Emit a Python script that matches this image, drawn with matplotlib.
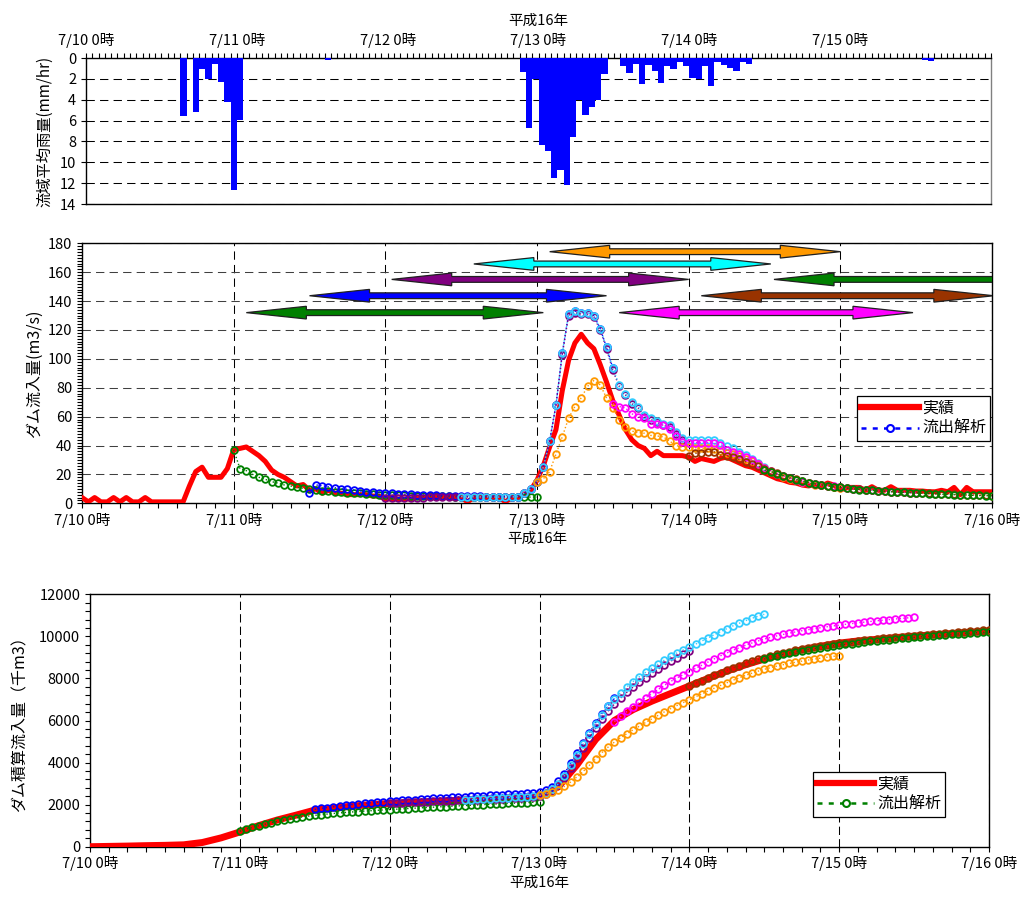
import numpy as np
import matplotlib
matplotlib.use('Agg')
import matplotlib.pyplot as plt
from matplotlib.ticker import MultipleLocator
from matplotlib.patches import Polygon
from matplotlib.lines import Line2D

plt.rcParams['font.family'] = ['Noto Sans CJK JP', 'DejaVu Sans']
plt.rcParams['font.size'] = 10.5

# ---- data (hours counted from 7/10 0時) ----
DAY_LABELS = ['7/10 0時', '7/11 0時', '7/12 0時', '7/13 0時',
              '7/14 0時', '7/15 0時', '7/16 0時']

# hourly basin rainfall, only hours with rain
rain_hours = [15, 17, 18, 19, 20, 21, 22, 23, 24, 38, 69, 70, 71,
              72, 73, 74, 75, 76, 77, 78, 79, 80, 81, 82,
              85, 86, 87, 88, 89, 90, 91, 92, 93, 94, 95, 96, 97, 98, 99,
              100, 101, 102, 103, 104, 105, 133, 134]
rain_mm = [5.6, 5.2, 1.1, 2.0, 0.6, 2.3, 4.2, 12.7, 5.9, 0.2, 1.3, 6.7, 2.0,
           8.3, 8.9, 11.5, 10.7, 12.2, 7.6, 4.0, 5.5, 4.7, 4.0, 1.5,
           0.8, 1.4, 0.6, 2.5, 0.7, 1.2, 2.4, 0.8, 1.1, 0.35, 0.8, 1.9, 2.0,
           0.8, 2.7, 0.35, 0.7, 1.0, 1.2, 0.35, 0.55, 0.2, 0.3]

# observed inflow (m3/s), hourly from hour 0 to 144
q_obs = [4, 1, 4, 1, 1, 4, 1, 4, 1, 1, 4, 1, 1, 1, 1, 1, 1, 12, 22, 25,
         18, 18, 18, 24, 37, 38, 39, 36, 33, 29, 23, 20, 18, 15, 12, 13,
         9, 10, 7, 9, 7, 7, 6, 6, 6, 6, 5, 5, 3, 3, 3, 3, 3, 4, 4, 4,
         4, 4, 4, 4, 4, 1, 4, 4, 4, 4, 4, 1, 4, 4, 6, 9, 16, 26, 39, 51,
         78, 99, 111, 117, 111, 107, 96, 84, 71, 61, 51, 44, 40, 38, 33, 36,
         33, 33, 33, 33, 32, 29, 31, 30, 29, 31, 32, 30, 28, 26, 25, 23,
         21, 19, 17, 16, 14.5, 14, 12.6, 12, 13.4, 12, 14, 12.6, 9.2, 11,
         11, 11, 9, 11.5, 9, 9, 11.5, 9, 9, 9, 8.5, 8.5, 8, 8, 9, 8, 11,
         6, 11, 8, 8, 8, 8]

# runoff analysis runs (start hour, hourly inflow m3/s)
q_run1_start, q_run1 = 24, [37, 24, 22.6, 20, 18, 16.6, 15, 14, 12.7, 12, 11, 10.4, 10, 9.2, 8.8, 8.5, 8, 7.6, 7.2, 7, 6.8, 6.5, 6.2, 6, 5.8, 5.6, 5.5, 5.4, 5.2, 5.1, 5, 5, 4.9, 4.8, 4.8, 4.7, 4.7, 4.6, 4.6, 4.5, 4.5, 4.5, 4.4, 4.4, 4.4, 4.3, 4.3, 4.3, 4.3]
q_run2_start, q_run2 = 36, [7, 12.7, 12.2, 11.5, 10.8, 10, 9.7, 9.2, 8.5, 8, 7.6, 7.4, 7.2, 6.9, 6.6, 6.4, 6.2, 6, 5.8, 5.6, 5.5, 5.3, 5.2, 5.1, 5, 4.9, 4.8, 4.8, 4.7, 4.7, 4.6, 4.6, 4.6, 4.6, 7, 10, 15, 25, 43, 68, 104, 131, 133, 132, 132, 130, 121, 108, 93.5]
q_run3_start, q_run3 = 48, [3.5, 3.6, 3.7, 3.8, 3.9, 4, 4, 4.1, 4.1, 4.2, 4.2, 4.3, 4.3, 4.3, 4.4, 4.4, 4.4, 4.4, 4.4, 4.4, 4.4, 4.6, 7, 10, 15, 25, 43, 68, 103, 130, 132, 131, 131, 129, 120, 107, 92, 81, 75, 69, 66, 60, 58, 56, 54, 53, 48, 44, 42]
q_run4_start, q_run4 = 60, [4.6, 4.5, 4.5, 4.4, 4.4, 4.4, 4.3, 4.3, 4.4, 4.6, 7, 10, 15, 25, 43, 68, 104, 131, 133, 132, 132, 130, 121, 108, 93.5, 82, 76, 70, 67, 61, 59, 57, 54.6, 54, 49.3, 45, 44, 44, 44, 44, 44, 41.5, 39.7, 38, 35.7, 33.4, 30.5, 27.7, 25]
q_run5_start, q_run5 = 72, [15, 17, 22, 34, 46, 59, 67, 73, 81, 85, 82, 73, 66, 58, 53, 50, 49, 48.5, 47, 46.6, 46, 43, 40, 39, 39, 38.5, 38, 38, 37.5, 36, 35, 34, 32.5, 31, 29, 27, 24.5, 22, 20, 18.5, 17, 15.8, 14.8, 13.8, 13, 12.4, 11.8, 11.3, 10.8]
q_run6_start, q_run6 = 84, [69, 67, 66, 62, 60, 59, 55, 54.6, 54, 51.7, 46.6, 42.6, 42, 42, 42, 42, 41.5, 40.4, 37, 35.7, 34, 32, 30, 27, 24.6, 22.6, 20.3, 19, 17.3, 16, 15, 14, 13.4, 12.7, 12.2, 11.8, 11, 10.4, 10, 9.6, 9.3, 9, 8.7, 8.4, 8.1, 7.8, 7.6, 7.4, 7.2]
q_run7_start, q_run7 = 96, [32.5, 34.6, 35, 35.7, 35.7, 33.4, 32.7, 31.8, 30.4, 28.8, 27, 25.6, 24, 22.3, 20.7, 19.2, 17.8, 16.6, 15.4, 14.3, 13.5, 12.8, 12.2, 11.6, 11.1, 10.6, 10.1, 9.7, 9.3, 9, 8.7, 8.4, 8.1, 7.8, 7.6, 7.4, 7.2, 7, 6.8, 6.6, 6.4, 6.3, 6.1, 6, 5.8, 5.7, 5.6, 5.4, 5.3]
q_run8_start, q_run8 = 108, [23, 22, 20.5, 19, 17.5, 16.4, 15.2, 14, 13.4, 12.6, 12, 11.5, 11, 10.4, 10, 9.5, 9.2, 9, 8.5, 8.3, 8, 7.5, 7.5, 7.3, 7.1, 6.9, 6.7, 6.5, 6.3, 6.1, 6, 5.8, 5.7, 5.5, 5.4, 5.3, 5.2]

# observed cumulative inflow (千m3), every 3 hours from hour 0 to 144
v_obs = [0, 15, 30, 50, 65, 90, 200, 420, 700, 1000, 1270, 1500, 1740,
         1840, 1930, 2000, 2060, 2100, 2140, 2180, 2220, 2260, 2300, 2340,
         2400, 2840, 3890, 5100, 6000, 6520, 6920, 7280, 7640, 8000, 8350,
         8650, 8920, 9150, 9360, 9530, 9680, 9780, 9860, 9940, 10010, 10070,
         10130, 10190, 10250]

# cumulative inflow of the runoff analysis runs (千m3), hourly
v_run1 = [740, 830, 915, 995, 1070, 1140, 1205, 1265, 1320, 1370, 1415, 1455, 1490, 1522, 1552, 1580, 1606, 1630, 1652, 1673, 1693, 1712, 1730, 1748, 1765, 1782, 1799, 1816, 1832, 1848, 1864, 1880, 1896, 1911, 1926, 1941, 1956, 1971, 1986, 2000, 2014, 2028, 2042, 2056, 2070, 2084, 2098, 2112, 2126]
v_run2 = [1775, 1820, 1862, 1900, 1936, 1970, 2002, 2032, 2060, 2087, 2112, 2136, 2160, 2182, 2203, 2223, 2243, 2262, 2281, 2299, 2317, 2334, 2351, 2368, 2384, 2400, 2416, 2432, 2447, 2462, 2477, 2492, 2507, 2522, 2540, 2565, 2600, 2680, 2850, 3100, 3480, 3980, 4470, 4950, 5420, 5890, 6330, 6700, 7050]
v_run3 = [2070, 2082, 2094, 2106, 2118, 2130, 2142, 2154, 2166, 2178, 2190, 2202, 2214, 2226, 2238, 2250, 2262, 2274, 2286, 2298, 2310, 2322, 2345, 2375, 2420, 2510, 2665, 2910, 3280, 3750, 4225, 4695, 5165, 5630, 6060, 6445, 6780, 7070, 7340, 7590, 7825, 8040, 8245, 8440, 8630, 8815, 8985, 9140, 9290]
v_run4 = [2220, 2236, 2252, 2268, 2284, 2300, 2316, 2332, 2348, 2365, 2385, 2415, 2460, 2550, 2720, 2980, 3380, 3880, 4370, 4860, 5350, 5830, 6280, 6680, 7030, 7330, 7600, 7850, 8080, 8290, 8490, 8680, 8870, 9050, 9210, 9350, 9480, 9630, 9780, 9930, 10080, 10225, 10365, 10500, 10625, 10745, 10855, 10955, 11050]
v_run5 = [2440, 2500, 2580, 2700, 2866, 3078, 3319, 3582, 3874, 4180, 4475, 4738, 4976, 5185, 5376, 5556, 5732, 5907, 6076, 6244, 6410, 6565, 6709, 6849, 6989, 7128, 7265, 7402, 7537, 7667, 7793, 7915, 8032, 8144, 8248, 8345, 8433, 8512, 8584, 8651, 8712, 8769, 8822, 8872, 8919, 8964, 9006, 9047, 9086]
v_run6 = [5950, 6191, 6429, 6652, 6868, 7080, 7278, 7475, 7669, 7855, 8023, 8176, 8327, 8478, 8629, 8780, 8931, 9076, 9209, 9338, 9460, 9575, 9683, 9780, 9869, 9950, 10023, 10091, 10153, 10211, 10265, 10315, 10363, 10409, 10453, 10495, 10535, 10572, 10608, 10643, 10676, 10708, 10739, 10769, 10798, 10826, 10853, 10880, 10906]
v_run7 = [7640, 7765, 7891, 8020, 8149, 8269, 8387, 8501, 8610, 8714, 8811, 8903, 8989, 9069, 9144, 9213, 9277, 9337, 9392, 9443, 9492, 9538, 9582, 9624, 9664, 9702, 9738, 9773, 9806, 9838, 9869, 9899, 9928, 9956, 9983, 10010, 10036, 10061, 10085, 10109, 10132, 10155, 10177, 10199, 10220, 10241, 10261, 10280, 10299]
v_run8 = [8920, 8999, 9073, 9141, 9204, 9263, 9318, 9368, 9416, 9461, 9504, 9545, 9585, 9622, 9658, 9692, 9725, 9757, 9788, 9818, 9847, 9874, 9901, 9927, 9953, 9978, 10002, 10025, 10048, 10070, 10092, 10113, 10134, 10154, 10173, 10192, 10211]

run_colors = ['#008000', '#0000FF', '#800080', '#33CCFF',
              '#FF9900', '#FF00FF', '#993300', '#008000']

# analysis periods drawn as double arrows in the middle chart (hours, m3/s)
arrow_start = [26, 36, 49, 62, 74, 85, 98, 109.5]
arrow_end = [73, 83, 96, 109, 120, 131.5, 144.3, 170]
arrow_y = [132, 143.7, 155, 165.7, 174.2, 132, 143.7, 155]
arrow_colors = ['#008000', '#0000FF', '#800080', '#00FFFF',
                '#FF9900', '#FF00FF', '#993300', '#008000']
HEAD_LEN = 9.5      # hours
HEAD_HALF = 4.4     # m3/s
SHAFT_HALF = 2.0    # m3/s

q_runs = [(q_run1_start, q_run1), (q_run2_start, q_run2), (q_run3_start, q_run3),
          (q_run4_start, q_run4), (q_run5_start, q_run5), (q_run6_start, q_run6),
          (q_run7_start, q_run7), (q_run8_start, q_run8)]
v_runs = [v_run1, v_run2, v_run3, v_run4, v_run5, v_run6, v_run7, v_run8]

W, H = 1028, 905
GRID_DASH = (0, (8, 5))


def time_axis(ax, minor):
    ax.set_xlim(0, 6)
    ax.set_xticks(range(7))
    ax.set_xticklabels(DAY_LABELS)
    ax.xaxis.set_minor_locator(MultipleLocator(minor))
    ax.tick_params(which='both', direction='out', length=3.5, width=0.8)
    for sp in ax.spines.values():
        sp.set_linewidth(1.0)


def double_arrow(ax, s, e, y, color):
    # outline of a two-headed arrow, x in days
    s, e, hl = s / 24, e / 24, HEAD_LEN / 24
    xs = [s, s + hl, s + hl, e - hl, e - hl, e, e - hl, e - hl, s + hl, s + hl]
    ys = [y, y + HEAD_HALF, y + SHAFT_HALF, y + SHAFT_HALF, y + HEAD_HALF,
          y, y - HEAD_HALF, y - SHAFT_HALF, y - SHAFT_HALF, y - HEAD_HALF]
    ax.add_patch(Polygon(np.column_stack([xs, ys]), closed=True,
                         facecolor=color, edgecolor='#202020', lw=0.9,
                         zorder=6))


fig = plt.figure(figsize=(W / 100, H / 100), dpi=100)

# ---- rainfall ----
ax1 = fig.add_axes([86 / W, 1 - 204 / H, (991 - 86) / W, (204 - 58) / H])
ax1.bar(np.array(rain_hours) / 24, rain_mm, width=1 / 24, align='edge',
        color='#0000FF', zorder=3)
time_axis(ax1, 1 / 24)
ax1.set_xticklabels(DAY_LABELS[:-1] + [''])
ax1.xaxis.tick_top()
ax1.xaxis.set_label_position('top')
ax1.set_xlabel('平成16年', labelpad=6)
ax1.set_ylim(14, 0)
ax1.set_yticks(range(0, 15, 2))
ax1.yaxis.grid(True, ls=GRID_DASH, color='black', lw=0.75)
ax1.set_axisbelow(True)
ax1.spines['right'].set_color('#808080')
ax1.set_ylabel('流域平均雨量(mm/hr)', fontsize=11)
ax1.yaxis.set_label_coords(-0.036, 0.5)

# ---- inflow ----
ax2 = fig.add_axes([82 / W, 1 - 503.3 / H, (992 - 82) / W, 260 / H])
hours = np.arange(len(q_obs))
ax2.plot(hours / 24, q_obs, color='#FF0000', lw=3.6, zorder=3)
for (start, q), c in zip(q_runs, run_colors):
    x = (start + np.arange(len(q))) / 24
    ax2.plot(x, q, ls=':', lw=1, color=c, marker='o', ms=4.8, mfc='none',
             mew=1.3, zorder=4)
for s, e, yv, c in zip(arrow_start, arrow_end, arrow_y, arrow_colors):
    double_arrow(ax2, s, e, yv, c)
time_axis(ax2, 1 / 8)
ax2.set_ylim(0, 180)
ax2.set_yticks(range(0, 181, 20))
ax2.yaxis.set_minor_locator(MultipleLocator(2))
ax2.yaxis.grid(True, ls=GRID_DASH, color='#404040', lw=0.75)
ax2.xaxis.grid(True, ls=GRID_DASH, color='black', lw=0.75)
ax2.set_axisbelow(True)
ax2.set_xlabel('平成16年', labelpad=3)
ax2.set_ylabel('ダム流入量(m3/s)', fontsize=11.5)
ax2.yaxis.set_label_coords(-0.043, 0.5)
leg_handles = [Line2D([], [], color='#FF0000', lw=4.5),
               Line2D([], [], color='#0000FF', ls=(0, (2, 2.5)), lw=1.8,
                      marker='o', ms=5, mfc='white', mew=1.5)]
leg = ax2.legend(leg_handles, ['実績', '流出解析'], loc='upper left',
                 bbox_to_anchor=(0.852, 0.413), fontsize=11.5, frameon=True,
                 fancybox=False, edgecolor='black', framealpha=1,
                 handlelength=3.6, handletextpad=0.2, borderpad=0.25,
                 labelspacing=0.2, borderaxespad=0)
leg.get_frame().set_linewidth(0.9)
leg.set_zorder(10)

# ---- cumulative inflow ----
ax3 = fig.add_axes([90 / W, 1 - 846.7 / H, (989 - 90) / W, (846.7 - 594.3) / H])
ax3.plot(np.arange(0, 145, 3) / 24, v_obs, color='#FF0000', lw=5, zorder=3)
for (start, q), v, c in zip(q_runs, v_runs, run_colors):
    x = (start + np.arange(len(v))) / 24
    ax3.plot(x, v, ls=':', lw=1, color=c, marker='o', ms=4.8, mfc='none',
             mew=1.3, zorder=4)
time_axis(ax3, 1 / 8)
ax3.set_ylim(0, 12000)
ax3.set_yticks(range(0, 12001, 2000))
ax3.yaxis.set_minor_locator(MultipleLocator(400))
ax3.xaxis.grid(True, ls=(0, (8, 4)), color='black', lw=0.75)
ax3.set_axisbelow(True)
ax3.set_xlabel('平成16年', labelpad=3)
ax3.set_ylabel('ダム積算流入量（千m3）', fontsize=11.5)
ax3.yaxis.set_label_coords(-0.068, 0.5)
leg_handles3 = [Line2D([], [], color='#FF0000', lw=4.5),
                Line2D([], [], color='#008000', ls=(0, (2, 2.5)), lw=1.8,
                       marker='o', ms=5, mfc='white', mew=1.5)]
leg3 = ax3.legend(leg_handles3, ['実績', '流出解析'], loc='upper left',
                  bbox_to_anchor=(0.804, 0.297), fontsize=11.5, frameon=True,
                  fancybox=False, edgecolor='black', framealpha=1,
                  handlelength=3.6, handletextpad=0.2, borderpad=0.25,
                  labelspacing=0.2, borderaxespad=0)
leg3.get_frame().set_linewidth(0.9)

fig.savefig('out.png', dpi=100)
